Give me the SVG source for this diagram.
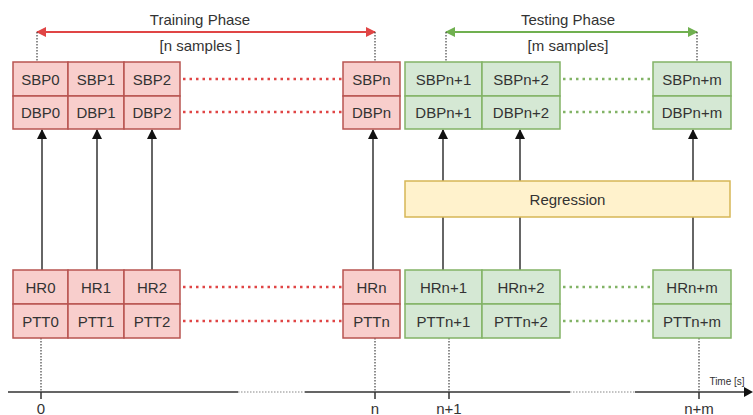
<svg xmlns="http://www.w3.org/2000/svg" width="753" height="415" viewBox="0 0 753 415">
<style>
text{font-family:"Liberation Sans",Arial,sans-serif;font-size:15px;fill:#333;text-anchor:middle;dominant-baseline:central}
.r{fill:#f8cecc;stroke:#b85450;stroke-width:1.5}
.g{fill:#d5e8d4;stroke:#82b366;stroke-width:1.5}
.y{fill:#fff2cc;stroke:#d6b656;stroke-width:1.5}
.ln{stroke:#333;stroke-width:1.5;fill:none}
.dv{stroke:#444;stroke-width:1.2;stroke-dasharray:1.5 1.5;fill:none}
.rd{stroke:#e04545;stroke-width:2.5;stroke-dasharray:2.5 4;fill:none}
.gd{stroke:#82b366;stroke-width:2.5;stroke-dasharray:2.5 4;fill:none}
</style>
<defs>
<marker id="ah" viewBox="0 0 10 10" refX="9" refY="5" markerWidth="10" markerHeight="10" markerUnits="userSpaceOnUse" orient="auto"><path d="M0,0 L10,5 L0,10 Z" fill="#111"/></marker>
<marker id="ra" viewBox="0 0 10 10" refX="9" refY="5" markerWidth="10" markerHeight="10" markerUnits="userSpaceOnUse" orient="auto-start-reverse"><path d="M0,0 L10,5 L0,10 Z" fill="#e04545"/></marker>
<marker id="ga" viewBox="0 0 10 10" refX="9" refY="5" markerWidth="10" markerHeight="10" markerUnits="userSpaceOnUse" orient="auto-start-reverse"><path d="M0,0 L10,5 L0,10 Z" fill="#70b050"/></marker>
</defs>

<g id="connectors">
<line x1="37" y1="32" x2="375" y2="32" stroke="#e04545" stroke-width="2" marker-start="url(#ra)" marker-end="url(#ra)"/>
<line x1="446" y1="32" x2="697" y2="32" stroke="#70b050" stroke-width="2" marker-start="url(#ga)" marker-end="url(#ga)"/>
<path class="dv" d="M37,32 V62 M375,32 V62 M446,32 V62 M697,32 V62"/>
<path class="rd" d="M183,79 H342 M183,112 H342 M183,287 H342 M183,321 H342"/>
<path class="gd" d="M563,79 H652 M563,112 H652 M563,287 H652 M563,321 H652"/>
<line class="ln" x1="42" y1="270" x2="42" y2="130" marker-end="url(#ah)"/>
<line class="ln" x1="97" y1="270" x2="97" y2="130" marker-end="url(#ah)"/>
<line class="ln" x1="152" y1="270" x2="152" y2="130" marker-end="url(#ah)"/>
<line class="ln" x1="373" y1="270" x2="373" y2="130" marker-end="url(#ah)"/>
<line class="ln" x1="443" y1="270" x2="443" y2="217"/>
<line class="ln" x1="520" y1="270" x2="520" y2="217"/>
<line class="ln" x1="693" y1="270" x2="693" y2="217"/>
<line class="ln" x1="443" y1="181" x2="443" y2="130" marker-end="url(#ah)"/>
<line class="ln" x1="520" y1="181" x2="520" y2="130" marker-end="url(#ah)"/>
<line class="ln" x1="693" y1="181" x2="693" y2="130" marker-end="url(#ah)"/>
<path class="dv" d="M41,338 V392 M375,338 V392 M449,338 V392 M699,338 V392"/>
<path class="ln" d="M8,392 H238 M305,392 H570 M635,392 H744"/>
<path d="M238,392 H305 M570,392 H635" stroke="#888" stroke-width="1.2" stroke-dasharray="1.5 1.5" fill="none"/>
<path d="M744,387 L753,392 L744,397 Z" fill="#111"/>
<path class="ln" d="M41,392 V399 M375,392 V399 M449,392 V399 M699,392 V399"/>
</g>

<g id="labels">
<text x="200" y="19">Training Phase</text>
<text x="200" y="45">[n samples ]</text>
<text x="568" y="19">Testing Phase</text>
<text x="568" y="45">[m samples]</text>
<text x="41" y="408">0</text>
<text x="375" y="408">n</text>
<text x="449" y="408">n+1</text>
<text x="699" y="408">n+m</text>
<text x="727" y="381" style="font-size:10px">Time [s]</text>
</g>

<g id="sbp-dbp-0"><rect class="r" x="13" y="62" width="55" height="34"/><rect class="r" x="13" y="96" width="55" height="33"/><text x="40.5" y="79">SBP0</text><text x="40.5" y="112">DBP0</text></g>
<g id="sbp-dbp-1"><rect class="r" x="68" y="62" width="56" height="34"/><rect class="r" x="68" y="96" width="56" height="33"/><text x="96" y="79">SBP1</text><text x="96" y="112">DBP1</text></g>
<g id="sbp-dbp-2"><rect class="r" x="124" y="62" width="56" height="34"/><rect class="r" x="124" y="96" width="56" height="33"/><text x="152" y="79">SBP2</text><text x="152" y="112">DBP2</text></g>
<g id="sbp-dbp-n"><rect class="r" x="343" y="62" width="57" height="34"/><rect class="r" x="343" y="96" width="57" height="33"/><text x="371.5" y="79">SBPn</text><text x="371.5" y="112">DBPn</text></g>
<g id="sbp-dbp-n1"><rect class="g" x="405" y="62" width="77" height="34"/><rect class="g" x="405" y="96" width="77" height="33"/><text x="443.5" y="79">SBPn+1</text><text x="443.5" y="112">DBPn+1</text></g>
<g id="sbp-dbp-n2"><rect class="g" x="482" y="62" width="78" height="34"/><rect class="g" x="482" y="96" width="78" height="33"/><text x="521" y="79">SBPn+2</text><text x="521" y="112">DBPn+2</text></g>
<g id="sbp-dbp-nm"><rect class="g" x="653" y="62" width="78" height="34"/><rect class="g" x="653" y="96" width="78" height="33"/><text x="692" y="79">SBPn+m</text><text x="692" y="112">DBPn+m</text></g>

<g id="regression"><rect class="y" x="405" y="181" width="325" height="36"/><text x="567.5" y="199">Regression</text></g>

<g id="hr-ptt-0"><rect class="r" x="13" y="270" width="55" height="34"/><rect class="r" x="13" y="304" width="55" height="34"/><text x="40.5" y="287">HR0</text><text x="40.5" y="321">PTT0</text></g>
<g id="hr-ptt-1"><rect class="r" x="68" y="270" width="56" height="34"/><rect class="r" x="68" y="304" width="56" height="34"/><text x="96" y="287">HR1</text><text x="96" y="321">PTT1</text></g>
<g id="hr-ptt-2"><rect class="r" x="124" y="270" width="56" height="34"/><rect class="r" x="124" y="304" width="56" height="34"/><text x="152" y="287">HR2</text><text x="152" y="321">PTT2</text></g>
<g id="hr-ptt-n"><rect class="r" x="343" y="270" width="57" height="34"/><rect class="r" x="343" y="304" width="57" height="34"/><text x="371.5" y="287">HRn</text><text x="371.5" y="321">PTTn</text></g>
<g id="hr-ptt-n1"><rect class="g" x="405" y="270" width="77" height="34"/><rect class="g" x="405" y="304" width="77" height="34"/><text x="443.5" y="287">HRn+1</text><text x="443.5" y="321">PTTn+1</text></g>
<g id="hr-ptt-n2"><rect class="g" x="482" y="270" width="78" height="34"/><rect class="g" x="482" y="304" width="78" height="34"/><text x="521" y="287">HRn+2</text><text x="521" y="321">PTTn+2</text></g>
<g id="hr-ptt-nm"><rect class="g" x="653" y="270" width="78" height="34"/><rect class="g" x="653" y="304" width="78" height="34"/><text x="692" y="287">HRn+m</text><text x="692" y="321">PTTn+m</text></g>
</svg>
